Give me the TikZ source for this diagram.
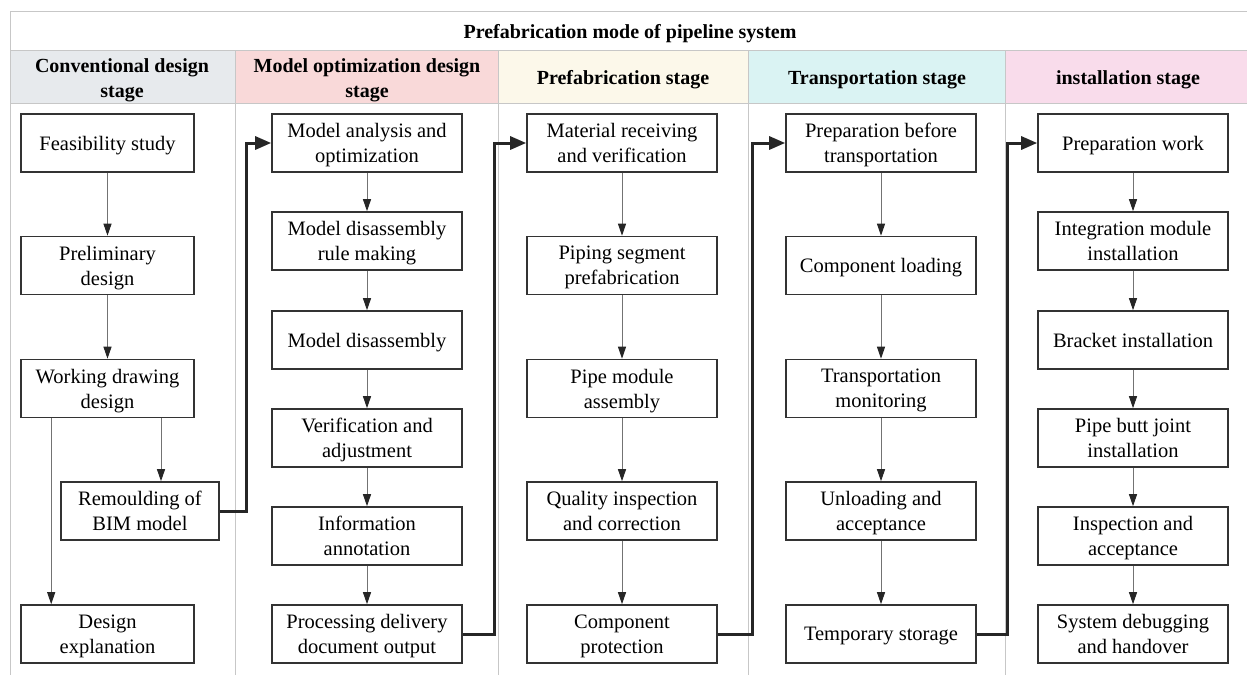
\documentclass[tikz,border=0pt]{standalone}
\usepackage{fontspec}
\setmainfont{Liberation Serif}
\usetikzlibrary{arrows.meta}

\definecolor{convgray}{HTML}{E7EAED}
\definecolor{optpink}{HTML}{F9D9D9}
\definecolor{prefcream}{HTML}{FCF8EA}
\definecolor{trancyan}{HTML}{DAF3F3}
\definecolor{instpink}{HTML}{F9DCEB}

\begin{document}
\begin{tikzpicture}[x=1pt,y=-1pt,
    frame/.style={draw=black!22,line width=1pt},
    head/.style={font=\fontsize{20}{25}\selectfont\bfseries,align=center},
    stagebox/.style={draw=black!80,line width=1.6pt,fill=white,
      minimum width=190pt,minimum height=58pt,align=center,
      font=\fontsize{20.5}{25}\selectfont,inner sep=2pt,text depth=-2pt},
    flow/.style={draw=black!55,line width=1pt,
      -{Triangle[length=12pt,width=8pt,color=black!85]}},
    link/.style={draw=black!85,line width=3pt,
      -{Triangle[length=16pt,width=13pt,color=black!85]}}]
      \useasboundingbox (0,0) rectangle (1247,675);

      % header cells
      \fill[convgray]  (10,50)   rectangle (235,103);
      \fill[optpink]   (235,50)  rectangle (498,103);
      \fill[prefcream] (498,50)  rectangle (748,103);
      \fill[trancyan]  (748,50)  rectangle (1005,103);
      \fill[instpink]  (1005,50) rectangle (1247,103);
      \draw[frame] (1247,11) -- (10,11) -- (10,675);
      \draw[frame] (10,50) -- (1247,50) (10,103) -- (1247,103);
      \foreach \x in {235,498,748,1005}
        \draw[frame] (\x,50) -- (\x,675);

      \node[head] (title) at (630,34) {Prefabrication mode of pipeline system};
      \node[head] (hconv) at (122,80) {Conventional design\\stage};
      \node[head] (hopt)  at (367,80) {Model optimization design\\stage};
      \node[head] (hpref) at (623,80) {Prefabrication stage};
      \node[head] (htran) at (877,80) {Transportation stage};
      \node[head] (hinst) at (1128,80) {installation stage};

      % conventional design
      \node[stagebox,minimum width=173pt] (feas)    at (107.5,143)   {Feasibility study};
      \node[stagebox,minimum width=173pt] (prelim)  at (107.5,265.5) {Preliminary\\design};
      \node[stagebox,minimum width=173pt] (work)    at (107.5,388.5) {Working drawing\\design};
      \node[stagebox,minimum width=158pt] (remould) at (140,511)     {Remoulding of\\BIM model};
      \node[stagebox,minimum width=173pt] (expl)    at (107.5,634)   {Design\\explanation};

      % model optimization
      \node[stagebox] (analysis) at (367,143) {Model analysis and\\optimization};
      \node[stagebox] (rule)     at (367,241) {Model disassembly\\rule making};
      \node[stagebox] (disasm)   at (367,340) {Model disassembly};
      \node[stagebox] (verif)    at (367,438) {Verification and\\adjustment};
      \node[stagebox] (annot)    at (367,536) {Information\\annotation};
      \node[stagebox] (deliver)  at (367,634) {Processing delivery\\document output};

      % prefabrication
      \node[stagebox] (material) at (622,143)   {Material receiving\\and verification};
      \node[stagebox] (segment)  at (622,265.5) {Piping segment\\prefabrication};
      \node[stagebox] (module)   at (622,388.5) {Pipe module\\assembly};
      \node[stagebox] (quality)  at (622,511)   {Quality inspection\\and correction};
      \node[stagebox] (protect)  at (622,634)   {Component\\protection};

      % transportation
      \node[stagebox] (preptr)  at (881,143)   {Preparation before\\transportation};
      \node[stagebox] (loading) at (881,265.5) {Component loading};
      \node[stagebox] (monitor) at (881,388.5) {Transportation\\monitoring};
      \node[stagebox] (unload)  at (881,511)   {Unloading and\\acceptance};
      \node[stagebox] (storage) at (881,634)   {Temporary storage};

      % installation
      \node[stagebox] (prepw)   at (1133,143) {Preparation work};
      \node[stagebox] (integr)  at (1133,241) {Integration module\\installation};
      \node[stagebox] (bracket) at (1133,340) {Bracket installation};
      \node[stagebox] (butt)    at (1133,438) {Pipe butt joint\\installation};
      \node[stagebox] (inspect) at (1133,536) {Inspection and\\acceptance};
      \node[stagebox] (handover) at (1133,634) {System debugging\\and handover};

      \draw[flow] (feas) -- (prelim);
      \draw[flow] (prelim) -- (work);
      \draw[flow] ([xshift=31pt]work.south west) -- ([xshift=31pt]expl.north west);
      \draw[flow] ([xshift=53.5pt]work.south) -- ([xshift=21pt]remould.north);

      \draw[flow] (analysis) -- (rule);
      \draw[flow] (rule) -- (disasm);
      \draw[flow] (disasm) -- (verif);
      \draw[flow] (verif) -- (annot);
      \draw[flow] (annot) -- (deliver);

      \draw[flow] (material) -- (segment);
      \draw[flow] (segment) -- (module);
      \draw[flow] (module) -- (quality);
      \draw[flow] (quality) -- (protect);

      \draw[flow] (preptr) -- (loading);
      \draw[flow] (loading) -- (monitor);
      \draw[flow] (monitor) -- (unload);
      \draw[flow] (unload) -- (storage);

      \draw[flow] (prepw) -- (integr);
      \draw[flow] (integr) -- (bracket);
      \draw[flow] (bracket) -- (butt);
      \draw[flow] (butt) -- (inspect);
      \draw[flow] (inspect) -- (handover);

      \draw[link] (remould.east) -- ++(27,0) |- (analysis.west);
      \draw[link] (deliver.east) -- ++(32,0) |- (material.west);
      \draw[link] (protect.east) -- ++(35,0) |- (preptr.west);
      \draw[link] (storage.east) -- ++(31,0) |- (prepw.west);
    \end{tikzpicture}
\end{document}
